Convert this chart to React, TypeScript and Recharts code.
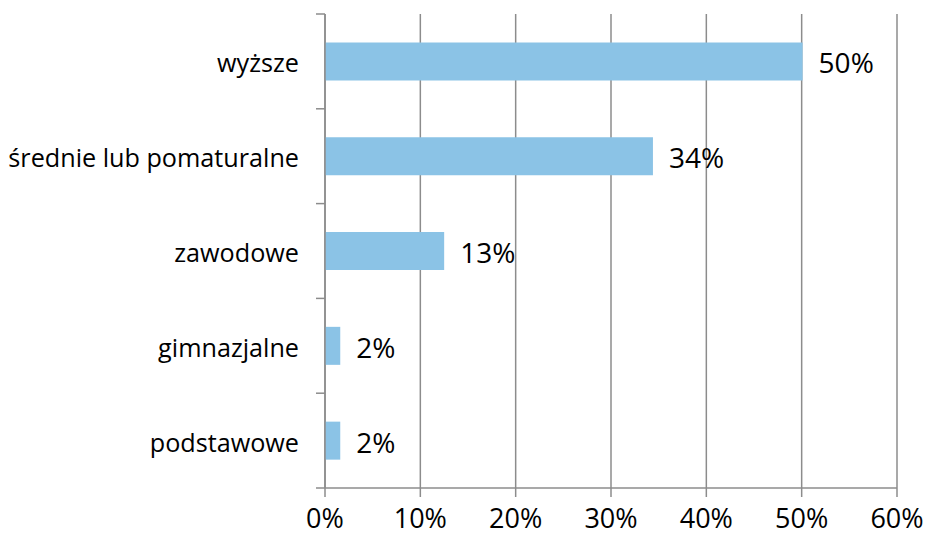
import { BarChart, Bar, XAxis, YAxis, CartesianGrid, LabelList } from 'recharts'

const categories = ['wyższe', 'średnie lub pomaturalne', 'zawodowe', 'gimnazjalne', 'podstawowe']
const shares = [50.1, 34.4, 12.5, 1.6, 1.6]
const xTicks = [0, 10, 20, 30, 40, 50, 60]

const data = categories.map((name, i) => ({ name, value: shares[i] }))

const W = 927
const H = 540
const TOP = 14
const BOTTOM = 52
const AXIS_X = 325
const BAND = (H - TOP - BOTTOM) / categories.length
const FONT = '"Open Sans", "Noto Sans", sans-serif'

function CategoryTick(props: any) {
  const { y, payload, index } = props
  return (
    <g>
      <line x1={AXIS_X - 9} x2={AXIS_X} y1={y - BAND / 2} y2={y - BAND / 2} stroke='#8c8c8c' strokeWidth={1.5} />
      {index === categories.length - 1 && (
        <line x1={AXIS_X - 9} x2={AXIS_X} y1={y + BAND / 2} y2={y + BAND / 2} stroke='#8c8c8c' strokeWidth={1.5} />
      )}
      <text x={AXIS_X - 26} y={y} dy={11} textAnchor='end' fill='#000' fontSize={25.2} fontFamily={FONT}>
        {payload.value}
      </text>
    </g>
  )
}

export default function App() {
  return (
    <div style={{ position: 'absolute', left: 0, top: 0, width: W, height: H, background: '#fff' }}>
      <BarChart
        width={W}
        height={H}
        data={data}
        layout='vertical'
        margin={{ top: TOP, right: 30, bottom: 0, left: 0 }}
        barCategoryGap='30%'
      >
        <CartesianGrid horizontal={false} stroke='#8c8c8c' strokeWidth={1.5} />
        <XAxis
          type='number'
          domain={[0, 60]}
          ticks={xTicks}
          tickFormatter={(v: number) => `${v}%`}
          height={BOTTOM}
          axisLine={{ stroke: '#8c8c8c', strokeWidth: 1.5 }}
          tickLine={{ stroke: '#8c8c8c', strokeWidth: 1.5 }}
          tickSize={9}
          tickMargin={12}
          tick={{ fill: '#000', fontSize: 27, fontFamily: FONT }}
          interval={0}
        />
        <YAxis
          type='category'
          dataKey='name'
          width={AXIS_X}
          axisLine={{ stroke: '#8c8c8c', strokeWidth: 1.5 }}
          tickLine={false}
          tickMargin={0}
          tick={<CategoryTick />}
          interval={0}
        />
        <Bar dataKey='value' fill='#8bc3e6' isAnimationActive={false}>
          <LabelList
            dataKey='value'
            position='right'
            offset={16}
            formatter={(v: any) => `${Math.round(Number(v))}%`}
            style={{ fill: '#000', fontSize: 28, fontFamily: FONT, transform: 'translateY(2px)' }}
          />
        </Bar>
      </BarChart>
    </div>
  )
}
